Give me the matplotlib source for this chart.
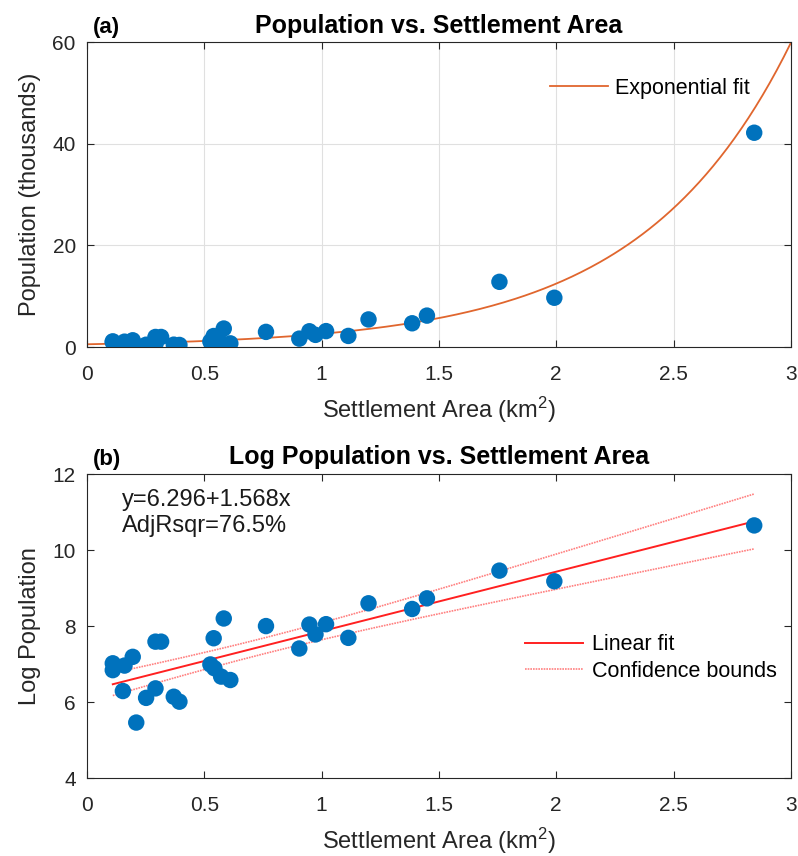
import numpy as np
import matplotlib
matplotlib.use("Agg")
import matplotlib.pyplot as plt

plt.rcParams["font.family"] = ["Liberation Sans", "DejaVu Sans"]
plt.rcParams["mathtext.fontset"] = "custom"
plt.rcParams["mathtext.rm"] = "Liberation Sans"
plt.rcParams["mathtext.it"] = "Liberation Sans:italic"

# settlement area (km^2) and log population
area = [0.11, 0.11, 0.16, 0.195, 0.153, 0.21, 0.252, 0.292, 0.292, 0.316,
        0.37, 0.394, 0.526, 0.543, 0.54, 0.583, 0.572, 0.611, 0.763, 0.905,
        0.948, 0.974, 1.019, 1.114, 1.2, 1.386, 1.449, 1.758, 1.992, 2.844]
log_pop = [7.02, 6.84, 6.96, 7.19, 6.29, 5.46, 6.11, 6.36, 7.59, 7.59,
           6.14, 6.01, 6.99, 6.89, 7.68, 8.20, 6.67, 6.58, 8.00, 7.41,
           8.04, 7.78, 8.05, 7.69, 8.60, 8.45, 8.73, 9.46, 9.18, 10.65]

intercept = 6.296
slope = 1.568
t_crit = 2.048  # 95%, 28 dof

x = np.array(area)
y = np.array(log_pop)
pop = np.exp(y) / 1000

blue = "#0072BD"
orange = "#E0662E"
red = "#FF2020"
dark = "#262626"

fig = plt.figure(figsize=(7.98, 8.56), dpi=100)
ax1 = fig.add_axes([0.109, 0.5946, 0.882, 0.356])
ax2 = fig.add_axes([0.109, 0.0911, 0.882, 0.355])

for ax in (ax1, ax2):
    ax.tick_params(direction="in", length=5, labelsize=15, top=True, right=True,
                   labeltop=False, labelright=False, color=dark, labelcolor=dark)
    ax.tick_params(axis="x", pad=13)
    ax.tick_params(axis="y", pad=8)
    for s in ax.spines.values():
        s.set_color(dark)
        s.set_linewidth(0.8)
    ax.set_xlim(0, 3)
    ax.set_xticks([0, 0.5, 1, 1.5, 2, 2.5, 3])
    ax.set_xticklabels(["0", "0.5", "1", "1.5", "2", "2.5", "3"])
    ax.set_xlabel("Settlement Area (km$^2$)", fontsize=17, color=dark, labelpad=8)

# (a)
xx = np.linspace(0, 3, 300)
ax1.plot(xx, np.exp(intercept + slope * xx) / 1000, color=orange, lw=1.3,
         label="Exponential fit")
ax1.scatter(x, pop, s=140, color=blue, zorder=3, edgecolors="none")
ax1.set_ylim(0, 60)
ax1.set_yticks([0, 20, 40, 60])
ax1.grid(True, color="#e0e0e0", lw=0.8)
ax1.set_axisbelow(True)
ax1.set_ylabel("Population (thousands)", fontsize=17, color=dark, labelpad=8)
ax1.set_title("Population vs. Settlement Area", fontsize=18, fontweight="bold",
              pad=7)
ax1.text(0.008, 1.03, "(a)", transform=ax1.transAxes, fontsize=16,
         fontweight="bold")
ax1.legend(loc="center left", bbox_to_anchor=(0.658, 0.849), frameon=False,
           fontsize=15.5, handlelength=2.7, handletextpad=0.3, borderpad=0,
           borderaxespad=0)

# (b)
xf = np.linspace(x.min(), x.max(), 200)
fit = intercept + slope * xf
resid = y - (intercept + slope * x)
s = np.sqrt(np.sum(resid ** 2) / (len(x) - 2))
sxx = np.sum((x - x.mean()) ** 2)
half = t_crit * s * np.sqrt(1 / len(x) + (xf - x.mean()) ** 2 / sxx)

ax2.scatter(x, y, s=140, color=blue, zorder=3, edgecolors="none")
ax2.plot(xf, fit, color=red, lw=1.4, label="Linear fit", zorder=2)
ax2.plot(xf, fit + half, color="#FF8080", lw=1.2, ls=(0, (1, 0.6)),
         label="Confidence bounds", zorder=2)
ax2.plot(xf, fit - half, color="#FF8080", lw=1.2, ls=(0, (1, 0.6)), zorder=2)
ax2.set_ylim(4, 12)
ax2.set_yticks([4, 6, 8, 10, 12])
ax2.set_ylabel("Log Population", fontsize=17, color=dark, labelpad=8)
ax2.set_title("Log Population vs. Settlement Area", fontsize=18,
              fontweight="bold", pad=7)
ax2.text(0.008, 1.03, "(b)", transform=ax2.transAxes, fontsize=16,
         fontweight="bold")
ax2.text(0.15, 10.98, "y=6.296+1.568x\nAdjRsqr=76.5%", fontsize=17,
         va="center", linespacing=1.2, color="#1a1a1a")
ax2.legend(loc="center left", bbox_to_anchor=(0.622, 0.395), frameon=False,
           fontsize=15.5, handlelength=2.7, handletextpad=0.4, borderpad=0,
           borderaxespad=0, labelspacing=0.25)

fig.savefig("out.png", dpi=100)
